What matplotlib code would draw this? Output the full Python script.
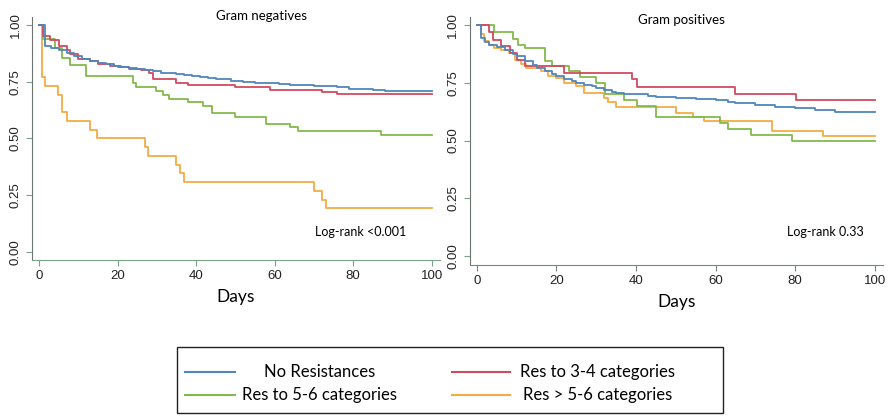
import matplotlib.pyplot as plt
from matplotlib.lines import Line2D
from matplotlib.patches import Rectangle

plt.rcParams['font.family'] = ['Lato', 'DejaVu Sans']

# colours per group
c_none = '#4f86bd'
c_34 = '#d24a5f'
c_56 = '#82bb4c'
c_gt56 = '#f5ab45'

# ---- Gram negatives ----
neg_none_t = [0, 1.5, 3, 5, 7, 9, 11, 13, 15, 17, 19, 21, 23, 25, 27, 29, 31, 33, 35, 37, 39, 41,
              43, 45, 47, 49, 52, 55, 58, 61, 64, 67, 70, 73, 76, 79, 82, 85, 88, 100]
neg_none_s = [1.0, 0.906, 0.898, 0.89, 0.876, 0.862, 0.852, 0.843, 0.834, 0.826, 0.82, 0.815, 0.81,
              0.805, 0.80, 0.795, 0.79, 0.787, 0.783, 0.78, 0.776, 0.772, 0.768, 0.764, 0.76, 0.755,
              0.75, 0.746, 0.743, 0.74, 0.737, 0.734, 0.732, 0.73, 0.725, 0.72, 0.716, 0.712, 0.709, 0.708]

neg_34_t = [0, 1, 2.7, 5, 7, 8, 10, 13, 15, 18, 20, 23, 26, 28, 29, 35, 38, 50, 58.7, 72, 76, 100]
neg_34_s = [1.0, 0.953, 0.935, 0.905, 0.89, 0.87, 0.85, 0.84, 0.83, 0.82, 0.815, 0.805, 0.80, 0.79,
            0.76, 0.745, 0.735, 0.725, 0.714, 0.705, 0.695, 0.695]

neg_56_t = [0, 1, 4, 5.9, 7.8, 11.9, 23.9, 24.8, 29.7, 31.6, 33, 37.9, 41.7, 44, 50, 57.8, 63.8,
            65.9, 87.1, 100]
neg_56_s = [1.0, 0.938, 0.898, 0.854, 0.822, 0.773, 0.744, 0.725, 0.707, 0.69, 0.676, 0.66, 0.645,
            0.61, 0.595, 0.565, 0.55, 0.535, 0.515, 0.515]

neg_gt56_t = [0, 0.85, 1.6, 4.8, 5.9, 7, 12.9, 14.8, 26.9, 27.7, 34.8, 35.8, 36.8, 70, 72.1, 73, 100]
neg_gt56_s = [1.0, 0.769, 0.731, 0.692, 0.615, 0.577, 0.538, 0.50, 0.462, 0.423, 0.385, 0.346,
              0.308, 0.269, 0.231, 0.192, 0.192]

# ---- Gram positives ----
pos_none_t = [0, 1, 2, 3, 5, 7, 9, 10, 12, 14, 15, 17, 19, 20, 22, 24, 25, 27, 29, 30, 32, 34, 35,
              37, 40, 43, 45, 50, 55, 60, 63, 65, 70, 75, 80, 85, 90, 100]
pos_none_s = [1.0, 0.946, 0.925, 0.915, 0.903, 0.89, 0.875, 0.867, 0.845, 0.825, 0.816, 0.8, 0.787,
              0.78, 0.768, 0.758, 0.751, 0.742, 0.734, 0.729, 0.72, 0.712, 0.707, 0.703, 0.70, 0.694,
              0.688, 0.683, 0.678, 0.674, 0.668, 0.661, 0.654, 0.646, 0.639, 0.632, 0.625, 0.625]

pos_34_t = [0, 3, 4, 6.1, 8.2, 10, 12, 22, 39, 40.2, 65, 80.1, 100]
pos_34_s = [1.0, 0.968, 0.936, 0.91, 0.88, 0.85, 0.823, 0.794, 0.765, 0.733, 0.703, 0.675, 0.675]

pos_56_t = [0, 4.3, 9, 10.3, 12, 17, 19, 23.2, 26, 30, 32.3, 37, 40.2, 45, 61.1, 63, 68.8, 79.3, 100]
pos_56_s = [1.0, 0.972, 0.939, 0.913, 0.899, 0.846, 0.823, 0.801, 0.777, 0.75, 0.70, 0.675, 0.649,
            0.60, 0.577, 0.551, 0.526, 0.50, 0.50]

pos_gt56_t = [0, 1, 1.8, 3, 4.4, 6, 8, 9.5, 11, 12.4, 16, 17.8, 20, 22, 25, 27, 32, 33, 35, 50,
              54.2, 57.1, 74.2, 87, 100]
pos_gt56_s = [1.0, 0.96, 0.93, 0.915, 0.90, 0.89, 0.88, 0.85, 0.83, 0.815, 0.80, 0.78, 0.77, 0.75,
              0.735, 0.705, 0.685, 0.665, 0.645, 0.62, 0.603, 0.584, 0.543, 0.519, 0.519]

group_names = ['No Resistances', 'Res to 3-4 categories', 'Res to 5-6 categories', 'Res > 5-6 categories']
group_colors = [c_none, c_34, c_56, c_gt56]

neg_curves = [(neg_none_t, neg_none_s), (neg_34_t, neg_34_s), (neg_56_t, neg_56_s), (neg_gt56_t, neg_gt56_s)]
pos_curves = [(pos_none_t, pos_none_s), (pos_34_t, pos_34_s), (pos_56_t, pos_56_s), (pos_gt56_t, pos_gt56_s)]

fig = plt.figure(figsize=(8.88, 4.19), dpi=100)

ax1 = fig.add_axes([0.036, 0.3795, 0.459, 0.58])
ax2 = fig.add_axes([0.529, 0.3675, 0.465, 0.592])


def style_axes(ax, ylo, bottom_color):
    ax.set_xlim(-1.8, 102)
    ax.set_ylim(ylo, 1.035)
    for s in ['top', 'right']:
        ax.spines[s].set_visible(False)
    ax.spines['left'].set_color('#6e7570')
    ax.spines['bottom'].set_color(bottom_color)
    ax.set_xticks([0, 20, 40, 60, 80, 100])
    ax.set_yticks([0, 0.25, 0.5, 0.75, 1.0])
    ax.set_yticklabels(['0.00', '0.25', '0.50', '0.75', '1.00'], rotation=90, va='center')
    ax.tick_params(axis='both', labelsize=9.5, colors='#222222', length=4, width=0.8)
    ax.tick_params(axis='x', color=bottom_color)
    ax.tick_params(axis='y', color='#7aa38a')
    for lab in ax.get_xticklabels() + ax.get_yticklabels():
        lab.set_family(['Liberation Sans', 'DejaVu Sans'])


# order in the curve lists: none, 3-4, 5-6, >5-6; draw low ones first so blue/red sit on top
draw_order = [3, 2, 1, 0]

for ax, curves in [(ax1, neg_curves), (ax2, pos_curves)]:
    for i in draw_order:
        t, s = curves[i]
        ax.step(t, s, where='post', color=group_colors[i], lw=1.3)

style_axes(ax1, -0.035, '#7aa38a')
style_axes(ax2, -0.039, '#7d8580')

ax1.set_xlabel('Days', fontsize=12.5, labelpad=5)
ax2.set_xlabel('Days', fontsize=12.5, labelpad=5)

fig.text(261 / 888, 1 - 16 / 419, 'Gram negatives', ha='center', va='center', fontsize=9.5)
fig.text(681 / 888, 1 - 20 / 419, 'Gram positives', ha='center', va='center', fontsize=9.5)
fig.text(361 / 888, 1 - 232 / 419, 'Log-rank <0.001', ha='center', va='center', fontsize=9)
fig.text(825 / 888, 1 - 232 / 419, 'Log-rank 0.33', ha='center', va='center', fontsize=9)

# legend box below the panels
lax = fig.add_axes([177 / 888, 1 - 413 / 419, 546 / 888, 66 / 419])
lax.set_xlim(177, 723)
lax.set_ylim(413, 347)
lax.axis('off')
lax.add_patch(Rectangle((177, 347), 546, 66, fill=False, ec='#222222', lw=1.0, clip_on=False))
leg_rows = [372, 372, 395, 395]
leg_line_x = [(185, 235), (452, 510), (185, 235), (452, 510)]
leg_text_x = [320, 598, 320, 598]
for i, k in enumerate([0, 1, 2, 3]):
    x0, x1 = leg_line_x[i]
    lax.add_line(Line2D([x0, x1], [leg_rows[i], leg_rows[i]], color=group_colors[k], lw=1.5))
    lax.text(leg_text_x[i], leg_rows[i], group_names[k], ha='center', va='center', fontsize=12)

fig.savefig('out.png', dpi=100)
